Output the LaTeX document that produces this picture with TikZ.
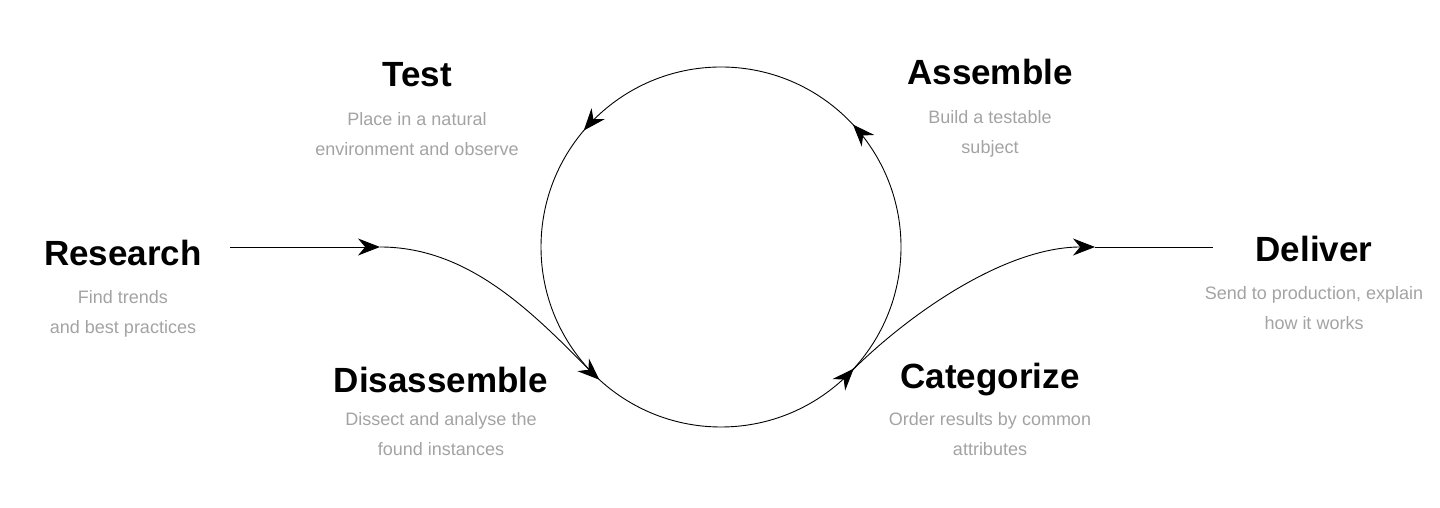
\documentclass[tikz,border=0pt]{standalone}
\usepackage{fontspec}
\setmainfont{Liberation Sans}
\usetikzlibrary{arrows.meta,decorations.markings,calc}
\definecolor{subgray}{HTML}{A3A3A3}
\tikzset{
  ttl/.style={font=\fontsize{35}{40}\selectfont\bfseries, inner sep=0, anchor=center},
  sub/.style={font=\fontsize{18}{30}\selectfont, text=subgray, align=center, inner sep=0, anchor=center},
  ln/.style={line width=0.9pt, black},
  tip/.style={-{Stealth[length=22pt,width=17pt]}},
  circarrows/.style={postaction={decorate},decoration={markings,
    mark=at position 0.119 with {\arrow{Stealth[length=22pt,width=17pt]}},
    mark=at position 0.388 with {\arrow{Stealth[length=22pt,width=17pt]}},
    mark=at position 0.632 with {\arrow{Stealth[length=22pt,width=17pt]}},
    mark=at position 0.882 with {\arrow{Stealth[length=22pt,width=17pt]}}}}
}
\begin{document}
\begin{tikzpicture}[x=1pt,y=1pt]
\useasboundingbox (0,0) rectangle (1440,508);
\coordinate (c) at (721,261);
\draw[ln,circarrows] ($(c)+(180,0)$) arc (0:360:180);
\coordinate (ls) at (230,261);
\coordinate (la) at (380,261);
\coordinate (lc) at (593.7,133.7);
\coordinate (rc) at (848.3,133.7);
\coordinate (ra) at (1095,261);
\coordinate (re) at (1213,261);
\draw[ln,tip] (ls) -- (la);
\draw[ln] (la) .. controls (470,261) and (534,194) .. (lc);
\draw[ln,tip] (rc) .. controls (908,194) and (1005,261) .. (ra);
\draw[ln] (ra) -- (re);
\node[ttl] (t1) at (417,433) {Test};
\node[sub] (s1) at (417,374) {Place in a natural\\environment and observe};
\node[ttl] (t2) at (990,436) {Assemble};
\node[sub] (s2) at (990,374) {Build a testable\\subject};
\node[ttl] (t3) at (123,255) {Research};
\node[sub] (s3) at (123,194) {Find trends\\and best practices};
\node[ttl] (t4) at (1314,259) {Deliver};
\node[sub] (s4) at (1314,200) {Send to production, explain\\how it works};
\node[ttl] (t5) at (441,128) {Disassemble};
\node[sub] (s5) at (441,74) {Dissect and analyse the\\found instances};
\node[ttl] (t6) at (990,128) {Categorize};
\node[sub] (s6) at (990,74) {Order results by common\\attributes};
\end{tikzpicture}
\end{document}
